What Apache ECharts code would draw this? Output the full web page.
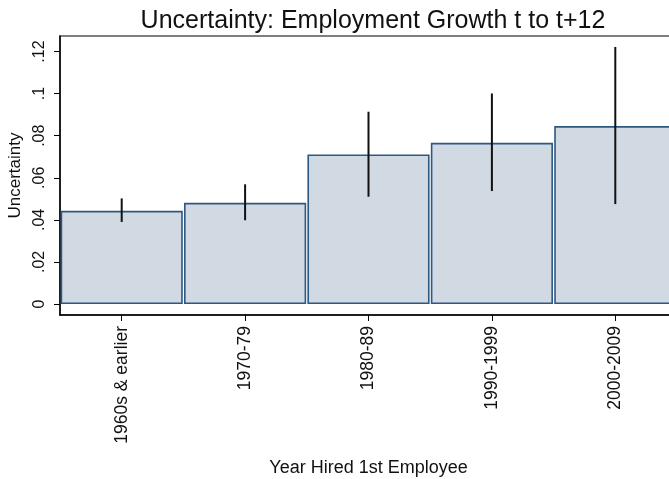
<!DOCTYPE html>
<html>
<head>
<meta charset="utf-8">
<script src="https://cdn.jsdelivr.net/npm/echarts@6/dist/echarts.min.js"></script>
<style>
html,body{margin:0;padding:0;background:#fff;overflow:hidden;width:669px;height:479px;}
#c{width:700px;height:479px;}
</style>
</head>
<body>
<div id="c"></div>
<script>
const categories = ['1960s & earlier', '1970-79', '1980-89', '1990-1999', '2000-2009'];
const meanValues = [0.0443, 0.0481, 0.0711, 0.0766, 0.0846];
const lowerValues = [0.0390, 0.0398, 0.0510, 0.0537, 0.0475];
const upperValues = [0.0502, 0.0569, 0.0914, 0.1001, 0.1222];
const yTickValues = [0, 0.02, 0.04, 0.06, 0.08, 0.10, 0.12];
const yTickLabels = ['0', '.02', '.04', '.06', '.08', '.1', '.12'];

const FONT = "'Liberation Sans', Arial, Helvetica, sans-serif";
const chart = echarts.init(document.getElementById('c'), null, {renderer: 'canvas'});

const errData = categories.map((c, i) => [i, lowerValues[i], upperValues[i]]);

chart.setOption({
  animation: false,
  backgroundColor: '#fff',
  title: {
    text: 'Uncertainty: Employment Growth t to t+12',
    left: 368, top: 4, textAlign: 'center',
    textStyle: {fontFamily: FONT, fontSize: 25, fontWeight: 'normal', color: '#111'}
  },
  grid: {
    left: 60, top: 36, width: 617, height: 279,
    containLabel: false, outerBoundsMode: 'none',
    show: true, borderColor: '#555', borderWidth: 1.5, backgroundColor: 'transparent'
  },
  xAxis: {
    type: 'category',
    data: categories,
    boundaryGap: true,
    axisLine: {show: true, onZero: false, lineStyle: {color: '#000', width: 1.5}},
    axisTick: {show: true, alignWithLabel: true, length: 6, lineStyle: {color: '#000', width: 1}},
    axisLabel: {rotate: 90, fontFamily: FONT, fontSize: 17.5, color: '#111', margin: 11},
    name: 'Year Hired 1st Employee',
    nameLocation: 'middle', nameGap: 144,
    nameTextStyle: {fontFamily: FONT, fontSize: 18, color: '#111'},
    splitLine: {show: false}
  },
  yAxis: {
    type: 'value',
    min: -0.00523, max: 0.1274,
    axisLine: {show: true, lineStyle: {color: '#000', width: 1.5}},
    axisTick: {show: true, length: 6, customValues: yTickValues, lineStyle: {color: '#000', width: 1}},
    axisLabel: {
      customValues: yTickValues,
      rotate: 90, fontFamily: FONT, fontSize: 16, color: '#111', margin: 12,
      formatter: function (v) {
        let best = 0, d = Infinity;
        yTickValues.forEach((t, i) => { if (Math.abs(t - v) < d) { d = Math.abs(t - v); best = i; } });
        return yTickLabels[best];
      }
    },
    splitLine: {show: false},
    name: 'Uncertainty',
    nameLocation: 'middle', nameRotate: 90, nameGap: 33,
    nameTextStyle: {fontFamily: FONT, fontSize: 17, color: '#111'}
  },
  series: [
    {
      type: 'bar',
      data: meanValues,
      barWidth: '99%',
      itemStyle: {color: '#d1d9e2', borderColor: '#2c5884', borderWidth: 1.6},
      emphasis: {disabled: true},
      z: 2
    },
    {
      type: 'custom',
      data: errData,
      encode: {x: 0, y: [1, 2]},
      z: 5,
      renderItem: function (params, api) {
        const p1 = api.coord([api.value(0), api.value(1)]);
        const p2 = api.coord([api.value(0), api.value(2)]);
        return {
          type: 'line',
          shape: {x1: p1[0], y1: p1[1], x2: p2[0], y2: p2[1]},
          style: {stroke: '#111', lineWidth: 2}
        };
      }
    }
  ]
});
</script>
</body>
</html>
